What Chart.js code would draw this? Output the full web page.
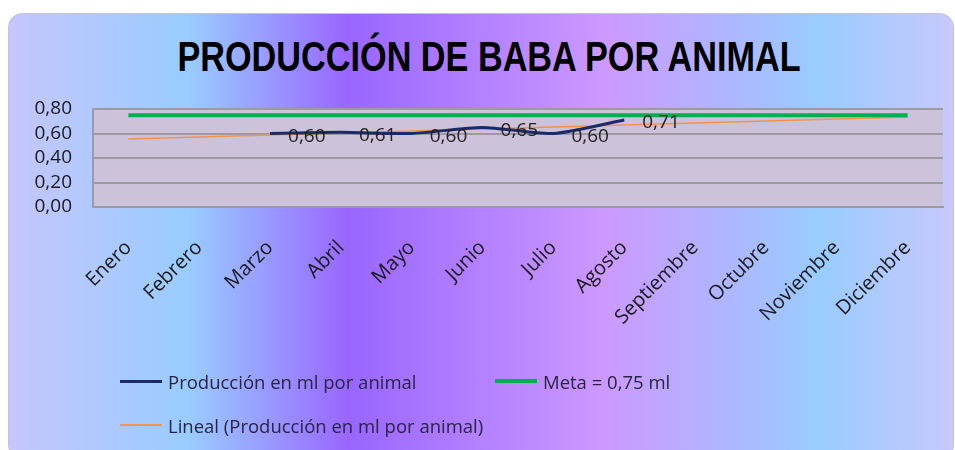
<!DOCTYPE html>
<html>
<head>
<meta charset="utf-8">
<script src="https://cdn.jsdelivr.net/npm/chart.js@4.4.1/dist/chart.umd.min.js"></script>
<style>
  html, body { margin: 0; padding: 0; background: #fff; width: 955px; height: 450px; overflow: hidden; }
  #frame {
    position: absolute; left: 8px; top: 13px; width: 944px; height: 445px;
    border: 1px solid #c4c4d4; border-radius: 14px;
    background: linear-gradient(to right, #c6c6fc 0%, #99ccff 19%, #9966ff 36%, #cc99ff 63%, #99ccff 86%, #c8c8fc 100%);
  }
  #title {
    position: absolute; left: 0; width: 978px; top: 32px; text-align: center;
    font-family: 'Liberation Sans', Arial, sans-serif; font-weight: bold; font-size: 42px;
    line-height: 50px; color: #000; transform: scaleX(0.815); transform-origin: 489px 0;
  }
  #wrap { position: absolute; left: 0; top: 0; width: 955px; height: 450px; }
  #legend { position: absolute; left: 0; top: 0; font-family: 'Open Sans', sans-serif; font-size: 18.5px; color: #2a2440; }
  .item { position: absolute; display: flex; align-items: center; white-space: nowrap; height: 26px; }
  .swatch { width: 42px; margin-right: 6px; }
</style>
</head>
<body>
<div id="frame"></div>
<div id="title">PRODUCCIÓN DE BABA POR ANIMAL</div>
<div id="wrap"><canvas id="babaChart" width="955" height="450"></canvas></div>
<div id="legend"></div>
<script>
// Data
const months = ['Enero', 'Febrero', 'Marzo', 'Abril', 'Mayo', 'Junio', 'Julio',
                'Agosto', 'Septiembre', 'Octubre', 'Noviembre', 'Diciembre'];
const produccion = [null, null, 0.60, 0.61, 0.60, 0.65, 0.60, 0.71, null, null, null, null];
const meta = [0.75, 0.75, 0.75, 0.75, 0.75, 0.75, 0.75, 0.75, 0.75, 0.75, 0.75, 0.75];
// trend line ends (Enero and Diciembre)
const tendencia = [0.555, null, null, null, null, null, null, null, null, null, null, 0.734];
const yTicks = [0, 0.2, 0.4, 0.6, 0.8];

const fmt = v => v.toFixed(2).replace('.', ',');
const baseFont = "'Open Sans', sans-serif";

// grey-lilac plot area behind the lines
const plotBg = {
    id: 'plotBg',
    beforeDraw(chart) {
        const a = chart.chartArea, ctx = chart.ctx;
        ctx.save();
        ctx.fillStyle = '#ccc2da';
        ctx.fillRect(a.left, a.top, a.right - a.left, a.bottom - a.top);
        ctx.restore();
    }
};

// value labels to the right of each production point
const pointLabels = {
    id: 'pointLabels',
    afterDatasetsDraw(chart) {
        const ctx = chart.ctx;
        const metaDs = chart.getDatasetMeta(0);
        ctx.save();
        ctx.font = '19px ' + baseFont;
        ctx.fillStyle = '#222';
        ctx.textAlign = 'left';
        ctx.textBaseline = 'middle';
        metaDs.data.forEach((pt, i) => {
            const v = produccion[i];
            if (v === null) return;
            ctx.fillText(fmt(v), pt.x + 18, pt.y + 3);
        });
        ctx.restore();
    }
};

const chart = new Chart(document.getElementById('babaChart'), {
    type: 'line',
    data: {
        labels: months,
        datasets: [
            {
                label: 'Producción en ml por animal',
                data: produccion,
                borderColor: '#1b2a6b',
                backgroundColor: '#1b2a6b',
                borderWidth: 3,
                pointRadius: 0,
                tension: 0.25
            },
            {
                label: 'Meta = 0,75 ml',
                data: meta,
                borderColor: '#00b050',
                backgroundColor: '#00b050',
                borderWidth: 4,
                pointRadius: 0
            },
            {
                label: 'Lineal (Producción en ml por animal)',
                data: tendencia,
                borderColor: '#f0954f',
                backgroundColor: '#f0954f',
                borderWidth: 1.5,
                pointRadius: 0,
                spanGaps: true
            }
        ]
    },
    options: {
        responsive: false,
        animation: false,
        devicePixelRatio: 1,
        layout: { padding: { left: 35, right: 12, top: 109, bottom: 93 } },
        scales: {
            x: {
                offset: true,
                grid: { display: false, drawTicks: false },
                border: { display: true, color: '#9e9aa3', width: 2 },
                ticks: {
                    color: '#1a1a1a',
                    font: { family: baseFont, size: 20 },
                    minRotation: 45, maxRotation: 45,
                    padding: 29,
                    autoSkip: false
                },
                afterFit: s => { s.height = 150; }
            },
            y: {
                min: 0, max: 0.8,
                afterBuildTicks: s => { s.ticks = yTicks.map(v => ({ value: v })); },
                grid: { color: '#9e9aa3', lineWidth: 2, drawTicks: false },
                border: { display: true, color: '#9e9aa3', width: 2 },
                ticks: {
                    color: '#1a1a1a',
                    font: { family: baseFont, size: 19 },
                    padding: 21,
                    autoSkip: false,
                    callback: v => fmt(v)
                },
                afterFit: s => { s.width = 58; }
            }
        },
        plugins: {
            legend: { display: false },
            tooltip: { enabled: false }
        }
    },
    plugins: [plotBg, pointLabels]
});

// legend drawn as html from the chart's datasets
const legendSpots = [[120, 381], [495, 381], [120, 425]];
const legendEl = document.getElementById('legend');
chart.data.datasets.forEach((ds, i) => {
    const item = document.createElement('div');
    item.className = 'item';
    item.style.left = legendSpots[i][0] + 'px';
    item.style.top = (legendSpots[i][1] - 13) + 'px';
    const sw = document.createElement('span');
    sw.className = 'swatch';
    sw.style.borderTop = Math.max(2, Math.round(ds.borderWidth)) + 'px solid ' + ds.borderColor;
    const txt = document.createElement('span');
    txt.textContent = ds.label;
    item.appendChild(sw);
    item.appendChild(txt);
    legendEl.appendChild(item);
});
</script>
</body>
</html>
